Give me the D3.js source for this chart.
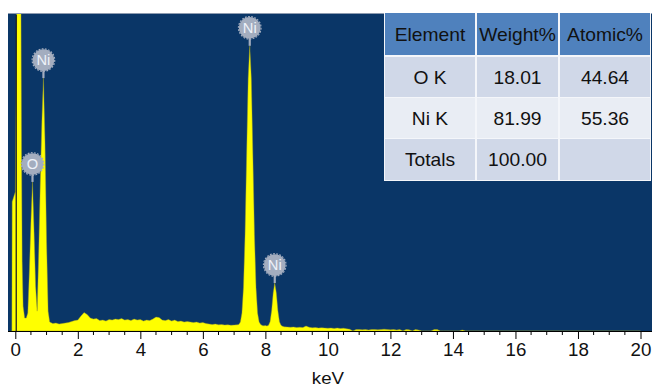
<!DOCTYPE html>
<html><head><meta charset="utf-8">
<script src="https://cdn.jsdelivr.net/npm/d3@7"></script>
<style>
body{margin:0;background:#fff}
svg{display:block}
text{font-family:"Liberation Sans",Arial,Helvetica,sans-serif}
</style>
</head><body>
<svg id="c" width="652" height="387"></svg>
<script>
// ---- data ----
const energyKeV = [
  -0.11,-0.10,-0.05,0.00,0.05,0.10,0.15,0.18,0.20,0.22,0.25,0.30,0.35,0.40,0.45,0.50,0.55,0.60,0.65,0.70,0.75,0.80,0.85,0.90,0.95,1.00,1.05,
  1.1,1.2,1.3,1.4,1.5,1.6,1.7,1.8,1.9,2.0,
  2.1,2.2,2.3,2.4,2.5,2.6,2.7,2.8,2.9,3.0,
  3.1,3.2,3.3,3.4,3.5,3.6,3.7,3.8,3.9,4.0,
  4.1,4.2,4.3,4.4,4.5,4.6,4.7,4.8,4.9,5.0,
  5.1,5.2,5.3,5.4,5.5,5.6,5.7,5.8,5.9,6.0,
  6.1,6.2,6.3,6.4,6.5,6.6,6.7,6.8,6.9,7.0,7.1,
  7.15,7.20,7.25,7.30,7.35,7.40,7.45,7.50,7.55,7.60,7.65,7.70,7.75,7.80,7.85,
  7.90,7.95,8.00,8.05,8.10,8.15,8.20,8.25,8.30,8.35,8.40,8.45,8.50,8.55,
  8.6,8.7,8.8,8.9,9.0,9.1,9.2,9.3,9.4,9.5,
  9.6,9.7,9.8,9.9,10.0,10.1,10.2,10.3,10.4,10.5,
  10.6,10.7,10.8,10.9,11.0,11.1,11.2,11.3,11.4,11.5,
  11.6,11.7,11.8,11.9,12.0,12.1,12.2,12.3,12.4,12.5,
  12.6,12.7,12.8,12.9,13.0,13.1,13.2,13.3,13.4,13.5,
  13.6,13.7,13.8,13.9,14.0,14.1,14.2,14.3,14.4,14.5,
  20.0
];
const counts = [
  0,1300,1350,1400,3400,3400,3400,3400,1800,700,250,130,130,180,600,1100,1500,1000,450,200,800,1500,2100,2545,1900,900,200,
  90,75,80,70,75,80,85,95,105,110,
  150,185,165,130,120,125,105,110,100,115,
  110,120,115,125,110,115,105,120,110,115,
  100,110,105,120,140,135,110,105,115,100,
  110,95,100,90,95,90,85,90,80,85,
  75,70,65,70,62,65,60,62,58,60,62,
  66,90,180,440,970,1760,2540,2870,2540,1760,970,440,180,90,66,
  55,52,55,50,57,93,205,383,483,383,205,93,57,48,
  42,40,38,40,35,38,35,50,38,32,
  35,30,33,30,28,30,26,30,25,28,
  22,18,0,15,15,12,15,10,15,15,
  12,15,18,15,12,15,10,15,0,15,
  12,0,15,10,0,0,0,0,15,15,
  0,0,0,0,0,0,0,10,0,0,
  0
];
const peakNames = ["O","Ni","Ni","Ni"];
const peakKeV = [0.55, 0.90, 7.50, 8.30];
const peakCounts = [1500, 2545, 2870, 483];
const xTickValues = [0,2,4,6,8,10,12,14,16,18,20];
const xAxisTitle = "keV";
const tableHeader = ["Element","Weight%","Atomic%"];
const tableElement = ["O K","Ni K","Totals"];
const tableWeight = ["18.01","81.99","100.00"];
const tableAtomic = ["44.64","55.36",""];

// ---- layout ----
const plotL = 8, plotR = 652, plotT = 13, plotB = 331;
const svg = d3.select("#c");
const x = d3.scaleLinear().domain([0,20]).range([15.3, 640.5]);
const y = d3.scaleLinear().domain([0,3200]).range([plotB, plotT]);
const SX = 1.1;

svg.append("rect").attr("x",plotL).attr("y",plotT).attr("width",plotR-plotL).attr("height",plotB-plotT)
  .attr("fill","#0a3667");
svg.append("line").attr("x1",plotL).attr("x2",plotR).attr("y1",plotT+0.5).attr("y2",plotT+0.5)
  .attr("stroke","#8d9bb0").attr("stroke-width",1);

svg.append("clipPath").attr("id","clip").append("rect")
  .attr("x",plotL).attr("y",plotT+1).attr("width",plotR-plotL).attr("height",plotB-plotT-1);

const pts = energyKeV.map((e,i)=>[e,counts[i]]);
const area = d3.area().x(d=>x(d[0])).y0(y(0)).y1(d=>y(d[1]));
svg.append("path").datum(pts).attr("clip-path","url(#clip)")
  .attr("d",area).attr("fill","#ffff00").attr("stroke","#9c9c2a").attr("stroke-width",0.6).attr("stroke-opacity",0.7);

// zero line
svg.append("line").attr("x1",x(0.03)).attr("x2",x(0.03)).attr("y1",plotT+2).attr("y2",plotB)
  .attr("stroke","#222").attr("stroke-width",1.3);

// peak labels
const lab = svg.append("g");
peakNames.forEach((n,i)=>{
  const cx = x(peakKeV[i]);
  const py = y(peakCounts[i]);
  const cy = py - 18;
  lab.append("line").attr("x1",cx).attr("x2",cx).attr("y1",cy+9).attr("y2",py)
    .attr("stroke","#a3adbf").attr("stroke-width",2.2);
  lab.append("circle").attr("cx",cx).attr("cy",cy).attr("r",10.8).attr("fill","#a3adbf");
  lab.append("circle").attr("cx",cx).attr("cy",cy).attr("r",11.3).attr("fill","none")
    .attr("stroke","#a3adbf").attr("stroke-width",1.2).attr("stroke-dasharray","1.8,1.4");
  lab.append("text").attr("transform",`translate(${cx},${cy+5}) scale(1.05,1)`)
    .attr("text-anchor","middle").attr("font-size",14).attr("fill","#eef2f9").text(n);
});

// axis
const xAxisMinor = d3.range(0, 20.01, 0.5).filter(v=>Math.round(v*2)%4!==0);
svg.append("g").selectAll("line").data(xAxisMinor).join("line")
  .attr("x1",d=>x(d)).attr("x2",d=>x(d)).attr("y1",plotB).attr("y2",plotB+4)
  .attr("stroke","#000").attr("stroke-width",1);
const ax = svg.append("g").attr("transform",`translate(0,${plotB})`)
  .call(d3.axisBottom(x).tickValues(xTickValues).tickSize(8).tickPadding(4).tickFormat(d3.format("d")));
ax.select(".domain").remove();
ax.selectAll(".tick line").attr("stroke","#000").attr("stroke-width",1);
ax.selectAll(".tick text").attr("font-size",18).attr("fill","#111")
  .attr("font-family",'"Liberation Sans",Arial,sans-serif').attr("transform","scale(1.04,1)");
svg.append("line").attr("x1",plotL).attr("x2",plotR).attr("y1",plotB+0.5).attr("y2",plotB+0.5)
  .attr("stroke","#000").attr("stroke-width",1.2);
svg.append("text").attr("transform",`translate(${x(10)},384) scale(${SX},1)`).attr("text-anchor","middle")
  .attr("font-size",17).attr("fill","#111").text(xAxisTitle);

// table
const colX = [385, 477, 560], colW = [90, 81, 90];
const rowY = [13, 57, 98, 139], rowH = [42, 40, 40, 41];
svg.append("rect").attr("x",384).attr("y",13).attr("width",267).attr("height",168).attr("fill","#f4f6fa");
const rows = [tableHeader, ...tableElement.map((e,i)=>[e, tableWeight[i], tableAtomic[i]])];
const fills = ["#4f81bd","#d0d8e8","#e9edf4","#d0d8e8"];
rows.forEach((r,ri)=>{
  r.forEach((t,ci)=>{
    svg.append("rect").attr("x",colX[ci]).attr("y",rowY[ri]).attr("width",colW[ci]).attr("height",rowH[ri])
      .attr("fill",fills[ri]);
    svg.append("text").attr("transform",`translate(${colX[ci]+colW[ci]/2},${rowY[ri]+rowH[ri]/2+6.5}) scale(${SX},1)`)
      .attr("text-anchor","middle").attr("font-size",17.5).attr("fill","#111").text(t);
  });
});
</script>
</body></html>
